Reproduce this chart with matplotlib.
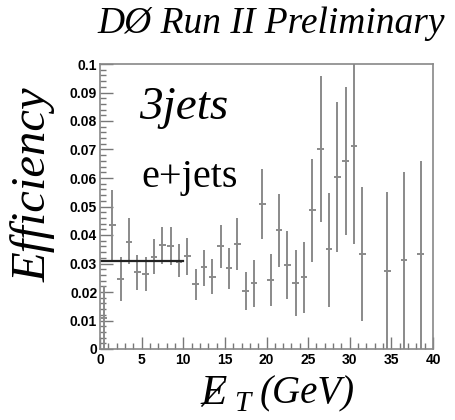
import matplotlib
matplotlib.use("Agg")
import matplotlib.pyplot as plt
from matplotlib.ticker import MultipleLocator, FixedLocator
from matplotlib.lines import Line2D
import numpy as np

# Data: bin centers (GeV), efficiency and asymmetric error-bar ends
et = [0.5, 1.5, 2.5, 3.5, 4.5, 5.5, 6.5, 7.5, 8.5, 9.5,
      10.5, 11.5, 12.5, 13.5, 14.5, 15.5, 16.5, 17.5, 18.5, 19.5,
      20.5, 21.5, 22.5, 23.5, 24.5, 25.5, 26.5, 27.5, 28.5, 29.5,
      30.5, 31.5, 34.5, 36.5, 38.5]
eff = [0.011, 0.0435, 0.0246, 0.0377, 0.0271, 0.0263, 0.0324, 0.0365, 0.0361, 0.0306,
       0.0326, 0.0227, 0.0289, 0.0254, 0.0361, 0.0283, 0.0370, 0.0205, 0.0233, 0.0509,
       0.0242, 0.0418, 0.0295, 0.0230, 0.0254, 0.0488, 0.0702, 0.0350, 0.0604, 0.0660,
       0.0713, 0.0335, 0.0275, 0.0312, 0.0335]
err_hi = [0.022, 0.0558, 0.0322, 0.0459, 0.0330, 0.0322, 0.0385, 0.0429, 0.0427, 0.0370,
          0.0388, 0.0280, 0.0349, 0.0316, 0.0435, 0.0353, 0.0459, 0.0269, 0.0312, 0.0632,
          0.0335, 0.0544, 0.0415, 0.0347, 0.0377, 0.0667, 0.0958, 0.0546, 0.0865, 0.0920,
          0.1050, 0.0567, 0.0552, 0.0620, 0.0660]
err_lo = [0.0, 0.0310, 0.0168, 0.0300, 0.0207, 0.0205, 0.0263, 0.0298, 0.0295, 0.0251,
          0.0260, 0.0172, 0.0221, 0.0192, 0.0283, 0.0211, 0.0277, 0.0137, 0.0149, 0.0385,
          0.0151, 0.0286, 0.0174, 0.0116, 0.0127, 0.0306, 0.0444, 0.0149, 0.0339, 0.0400,
          0.0370, 0.0099, 0.0, 0.0, 0.0]
fit_range = [0, 10]
fit_value = 0.031

xticks = [0, 5, 10, 15, 20, 25, 30, 35, 40]
yticks = [0, 0.01, 0.02, 0.03, 0.04, 0.05, 0.06, 0.07, 0.08, 0.09, 0.1]
ytick_labels = ["0", "0.01", "0.02", "0.03", "0.04", "0.05", "0.06", "0.07", "0.08", "0.09", "0.1"]

W, H = 456, 420
fig = plt.figure(figsize=(W/100, H/100), dpi=100)
ax = fig.add_axes([100/W, 1-349/H, 333/W, 285/H])

eff_a = np.array(eff)
yerr = np.vstack([eff_a - np.array(err_lo), np.array(err_hi) - eff_a])
ax.errorbar(et, eff, yerr=yerr, xerr=0.4, fmt='none', ecolor='#8a8a8a',
            elinewidth=1.4, capsize=0)
ax.plot(fit_range, [fit_value, fit_value], color='#222222', lw=1.6)

ax.set_xlim(0, 40)
ax.set_ylim(0, 0.1)
ax.xaxis.set_major_locator(FixedLocator(xticks))
ax.xaxis.set_minor_locator(MultipleLocator(1))
ax.yaxis.set_major_locator(FixedLocator(yticks))
ax.yaxis.set_minor_locator(MultipleLocator(0.002))
ax.set_xticklabels([str(t) for t in xticks])
ax.set_yticklabels(ytick_labels)
ax.tick_params(which='both', direction='in', top=False, right=False, color='#777777')
ax.tick_params(which='major', length=9, width=1.0)
ax.tick_params(which='minor', length=4.5, width=1.0)
for lab in ax.get_xticklabels() + ax.get_yticklabels():
    lab.set_fontfamily('Liberation Sans')
    lab.set_fontweight('bold')
    lab.set_fontsize(10)
ax.tick_params(axis='x', pad=3)
ax.tick_params(axis='y', pad=2)
for s in ax.spines.values():
    s.set_color('#888888')
    s.set_linewidth(1.2)

serif = 'Liberation Serif'
ax.text(0.118, 0.845, '3jets', transform=ax.transAxes, fontfamily=serif,
        fontstyle='italic', fontsize=34, va='center', ha='left')
ax.text(0.125, 0.60, 'e+jets', transform=ax.transAxes, fontfamily=serif,
        fontsize=29, va='center', ha='left')

fig.text(97/W, 1-24/H, 'DØ Run II Preliminary', fontfamily=serif,
         fontstyle='italic', fontsize=27, va='center', ha='left')
fig.text(33/W, 1-185/H, 'Efficiency', fontfamily=serif, fontstyle='italic',
         fontsize=35, rotation=90, va='center', ha='center')

# x label: missing E_T (E with a slash drawn through it)
fig.text(201/W, 1-394/H, 'E', fontfamily=serif, fontstyle='italic',
         fontsize=31, va='center', ha='left')
fig.add_artist(Line2D([202/W, 224/W], [1-406/H, 1-382/H], color='black',
                      lw=1.1, transform=fig.transFigure))
fig.text(234/W, 1-404/H, 'T', fontfamily=serif, fontstyle='italic',
         fontsize=21, va='center', ha='left')
fig.text(260/W, 1-394/H, '(GeV)', fontfamily=serif, fontstyle='italic',
         fontsize=28, va='center', ha='left')

fig.savefig('out.png', dpi=100)
